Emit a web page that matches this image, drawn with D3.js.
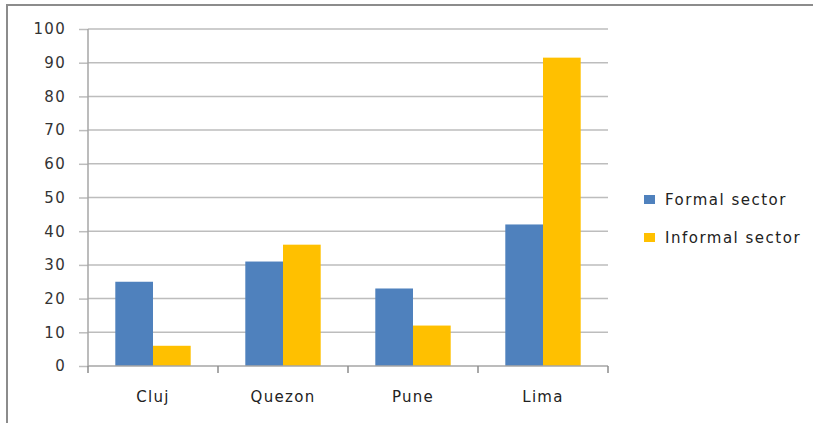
<!DOCTYPE html>
<html>
<head>
<meta charset="utf-8">
<script src="https://cdn.jsdelivr.net/npm/d3@7"></script>
<style>
  body { margin: 0; background: #fff; }
  text { font-family: "DejaVu Sans", sans-serif; }
</style>
</head>
<body>
<div id="chart"></div>
<script>
// data
const cities = ["Cluj", "Quezon", "Pune", "Lima"]
const seriesNames = ["Formal sector", "Informal sector"]
const formal = [25, 31, 23, 42]
const informal = [6, 36, 12, 91.5]
const yTicks = [0, 10, 20, 30, 40, 50, 60, 70, 80, 90, 100]
const colors = ["#4f81bd", "#ffc000"]

const w = 813
const h = 423

const svg = d3.select("#chart")
  .append("svg")
  .attr("width", w)
  .attr("height", h)

// outer frame
svg.append("rect")
  .attr("x", 7)
  .attr("y", 5)
  .attr("width", 900)
  .attr("height", 500)
  .attr("fill", "none")
  .attr("stroke", "#8c8c8c")
  .attr("stroke-width", 2)

const y = d3.scaleLinear()
  .domain([0, 100])
  .range([366, 29])

const x0 = d3.scaleBand()
  .domain(cities)
  .range([88, 608])
  .paddingInner(0.42)
  .paddingOuter(0.21)

const x1 = d3.scaleBand()
  .domain(seriesNames)
  .range([0, x0.bandwidth()])

// gridlines + y axis
const yAxis = d3.axisLeft(y)
  .tickValues(yTicks)
  .tickSize(9)
  .tickPadding(13)

const gy = svg.append("g")
  .attr("transform", "translate(88,0)")
  .call(yAxis)
gy.select(".domain").remove()
gy.selectAll(".tick line").attr("stroke", "#bdbdbd").attr("stroke-width", 1.5)
gy.selectAll(".tick text")
  .attr("font-size", 15)
  .attr("letter-spacing", 1.3)
  .attr("fill", "#333")

svg.append("g")
  .selectAll("line")
  .data(yTicks.filter(d => d > 0))
  .enter()
  .append("line")
  .attr("x1", 88)
  .attr("x2", 608)
  .attr("y1", d => y(d))
  .attr("y2", d => y(d))
  .attr("stroke", "#bdbdbd")
  .attr("stroke-width", 1.5)

// bars
const rows = cities.map((c, i) => ({ city: c, values: [formal[i], informal[i]] }))

const groups = svg.append("g")
  .selectAll("g")
  .data(rows)
  .enter()
  .append("g")
  .attr("transform", d => "translate(" + x0(d.city) + ",0)")

groups.selectAll("rect")
  .data(d => d.values.map((v, j) => ({ s: seriesNames[j], v: v, j: j })))
  .enter()
  .append("rect")
  .attr("x", d => x1(d.s))
  .attr("y", d => y(d.v))
  .attr("width", x1.bandwidth())
  .attr("height", d => y(0) - y(d.v))
  .attr("fill", d => colors[d.j])

// x axis line and ticks at category boundaries
const step = x0.step()
const bounds = [x0.range()[0]].concat(cities.map(c => x0(c) + x0.bandwidth() + step * x0.paddingInner() / 2))

svg.append("line")
  .attr("x1", 88).attr("x2", 608)
  .attr("y1", y(0)).attr("y2", y(0))
  .attr("stroke", "#a6a6a6")
  .attr("stroke-width", 1.5)

svg.append("line")
  .attr("x1", 88).attr("x2", 88)
  .attr("y1", y(100)).attr("y2", y(0))
  .attr("stroke", "#a6a6a6")
  .attr("stroke-width", 1.5)

svg.append("g")
  .selectAll("line")
  .data(bounds)
  .enter()
  .append("line")
  .attr("x1", d => d).attr("x2", d => d)
  .attr("y1", y(0)).attr("y2", y(0) + 7)
  .attr("stroke", "#8c8c8c")
  .attr("stroke-width", 1.5)

svg.append("g")
  .selectAll("text")
  .data(cities)
  .enter()
  .append("text")
  .attr("x", d => x0(d) + x0.bandwidth() / 2)
  .attr("y", 402)
  .attr("text-anchor", "middle")
  .attr("font-size", 15)
  .attr("letter-spacing", 1.3)
  .attr("fill", "#222")
  .text(d => d)

// legend
const legend = svg.append("g")
  .attr("transform", "translate(644,195)")

const li = legend.selectAll("g")
  .data(seriesNames)
  .enter()
  .append("g")
  .attr("transform", (d, i) => "translate(0," + i * 38 + ")")

li.append("rect")
  .attr("width", 11)
  .attr("height", 9)
  .attr("fill", (d, i) => colors[i])

li.append("text")
  .attr("x", 21)
  .attr("y", 10)
  .attr("font-size", 15)
  .attr("letter-spacing", 1.5)
  .attr("fill", "#222")
  .text(d => d)
</script>
</body>
</html>
